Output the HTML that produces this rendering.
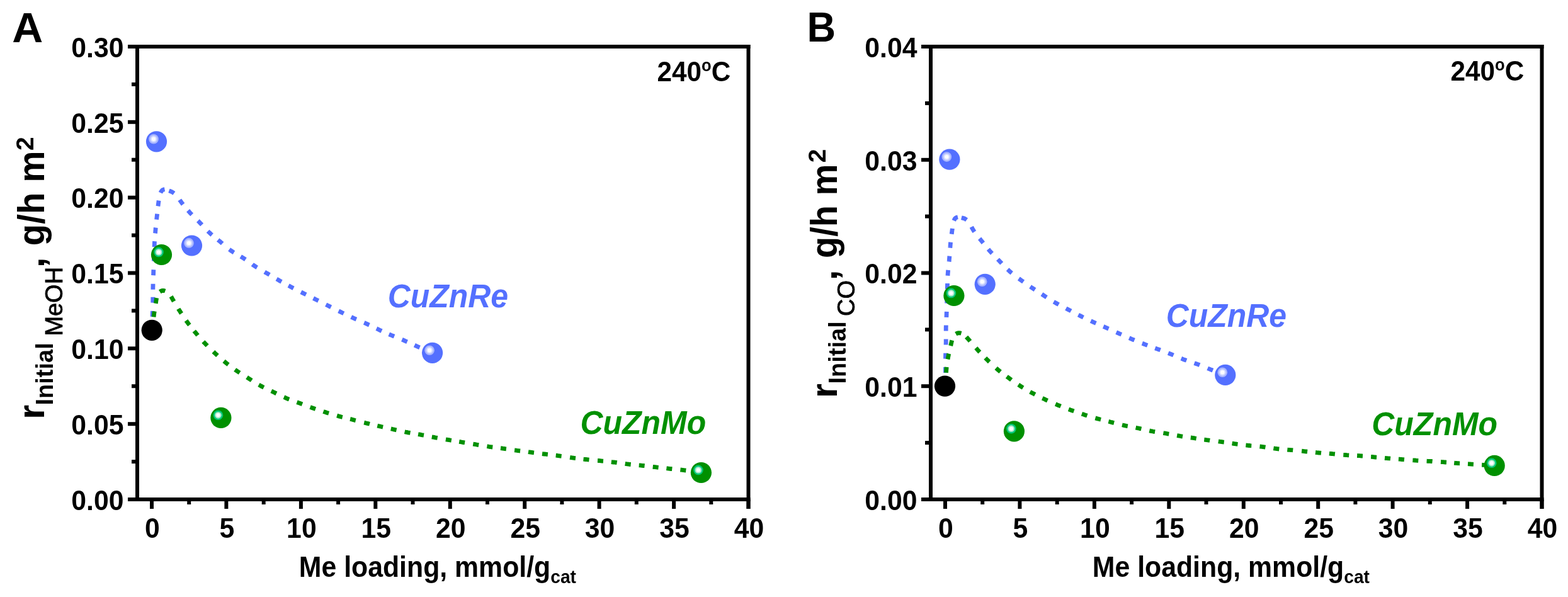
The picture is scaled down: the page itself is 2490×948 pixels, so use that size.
<!DOCTYPE html>
<html><head><meta charset="utf-8"><title>Figure</title>
<style>html,body{margin:0;padding:0;background:#fff;} svg{display:block;}</style></head>
<body><svg width="2490" height="948" viewBox="0 0 2490 948" font-family="'Liberation Sans', Arial, sans-serif">
<rect width="2490" height="948" fill="#fff"/>
<path d="M242.0,502.9 242.1,501.1 242.2,499.3 242.2,497.5 242.3,495.7 242.4,493.9M242.7,480.7 242.8,478.9 242.8,477.1 242.8,475.3 242.8,473.5 242.8,471.7M242.9,459.7 242.9,457.9 242.9,456.1 243.0,454.3 243.0,452.5 243.0,450.7M243.5,437.3 243.6,435.5 243.7,433.7 243.7,431.9 243.8,430.1 243.9,428.3M244.4,414.5 244.4,412.7 244.5,410.9 244.5,409.1 244.6,407.3 244.6,405.5M245.1,392.1 245.2,390.3 245.3,388.5 245.3,386.7 245.4,384.9 245.6,383.1M246.5,370.5 246.7,368.7 246.8,366.9 247.0,365.1 247.1,363.3 247.3,361.5M248.6,348.7 248.8,346.9 249.0,345.1 249.2,343.3 249.4,341.5 249.6,339.7M250.9,327.4 251.2,325.7 251.4,323.9 251.6,322.1 251.9,320.3 252.1,318.5M255.0,306.1 255.8,304.4 256.8,302.9 258.1,301.7 259.8,301.0 261.5,300.7M268.4,302.9 270.1,303.5 271.8,304.1 273.4,304.9 274.9,305.8 276.4,306.9M285.3,317.3 286.3,318.8 287.4,320.3 288.4,321.7 289.5,323.2 290.6,324.6M298.6,334.3 299.8,335.6 301.0,337.0 302.2,338.3 303.5,339.6 304.7,340.8M314.4,350.5 315.7,351.8 316.9,353.1 318.1,354.4 319.4,355.7 320.6,357.0M330.1,367.1 331.4,368.4 332.7,369.6 334.0,370.8 335.3,372.0 336.7,373.2M346.2,380.9 347.6,382.1 349.0,383.2 350.4,384.4 351.8,385.5 353.1,386.7M364.1,396.0 365.6,397.1 367.0,398.2 368.5,399.2 370.0,400.2 371.5,401.1M382.2,407.4 383.8,408.3 385.3,409.2 386.9,410.2 388.4,411.2 389.9,412.2M400.8,419.8 402.2,420.9 403.7,421.9 405.2,422.9 406.7,423.9 408.3,424.8M420.2,431.8 421.7,432.7 423.3,433.6 424.9,434.5 426.4,435.4 428.0,436.4M439.2,443.0 440.8,443.9 442.4,444.8 443.9,445.7 445.5,446.6 447.0,447.4M458.1,453.5 459.7,454.3 461.3,455.2 462.9,456.0 464.5,456.9 466.1,457.7M478.0,463.8 479.6,464.6 481.2,465.4 482.8,466.2 484.4,467.0 486.0,467.8M497.6,473.6 499.2,474.4 500.8,475.2 502.4,476.0 504.0,476.8 505.6,477.6M517.6,483.7 519.2,484.5 520.8,485.3 522.4,486.1 524.0,486.9 525.6,487.7M537.7,493.8 539.4,494.6 541.0,495.4 542.6,496.2 544.2,497.0 545.8,497.8M557.7,503.4 559.3,504.2 561.0,504.9 562.6,505.7 564.2,506.4 565.9,507.1M578.2,512.4 579.9,513.1 581.5,513.8 583.2,514.6 584.8,515.4 586.4,516.1M597.9,521.7 599.6,522.5 601.2,523.3 602.8,524.1 604.4,524.8 606.1,525.6M617.7,530.8 619.4,531.5 621.1,532.2 622.7,532.8 624.4,533.5 626.1,534.2M638.4,539.2 640.0,539.9 641.7,540.6 643.3,541.4 645.0,542.1 646.6,542.8M658.3,548.1 659.9,548.9 661.5,549.6 663.2,550.4 664.8,551.1 666.5,551.8" fill="none" stroke="#5470ff" stroke-width="6.8"/>
<path d="M244.1,503.3 244.3,501.5 244.5,499.7 244.7,497.9 245.0,496.2 245.2,494.4M247.3,481.9 247.6,480.2 247.8,478.4 248.1,476.6 248.4,474.8 248.7,473.1M253.9,463.3 255.4,462.3 257.1,461.6 258.9,461.4 260.6,461.5 262.3,462.1M271.6,470.8 272.5,472.3 273.4,473.9 274.3,475.5 275.2,477.0 276.1,478.6M283.3,490.3 284.2,491.9 285.2,493.4 286.2,494.9 287.1,496.4 288.1,497.9M295.6,509.0 296.6,510.5 297.7,511.9 298.8,513.4 299.8,514.8 300.9,516.2M308.3,525.6 309.4,527.0 310.6,528.3 311.7,529.7 312.9,531.1 314.0,532.5M322.9,542.5 324.1,543.8 325.4,545.1 326.6,546.5 327.9,547.7 329.1,549.0M338.9,558.5 340.2,559.8 341.5,561.0 342.9,562.2 344.2,563.4 345.5,564.6M355.6,573.4 356.9,574.5 358.3,575.7 359.7,576.8 361.1,577.9 362.6,579.0M373.2,586.9 374.6,587.9 376.1,589.0 377.6,590.0 379.1,591.0 380.6,592.0M392.1,599.2 393.6,600.2 395.1,601.1 396.7,602.1 398.2,603.0 399.7,604.0M411.0,611.0 412.6,611.9 414.1,612.8 415.7,613.6 417.3,614.5 418.9,615.3M430.8,621.0 432.4,621.7 434.1,622.5 435.7,623.3 437.3,624.1 438.9,624.9M450.9,630.6 452.6,631.3 454.2,632.1 455.9,632.8 457.5,633.5 459.2,634.1M471.5,638.7 473.2,639.3 474.9,639.9 476.6,640.5 478.3,641.1 480.0,641.8M492.6,646.5 494.2,647.1 495.9,647.7 497.6,648.3 499.3,648.9 501.0,649.5M513.5,653.5 515.2,654.1 516.9,654.6 518.6,655.2 520.4,655.7 522.1,656.2M535.1,660.1 536.8,660.6 538.6,661.1 540.3,661.5 542.0,662.0 543.8,662.4M556.1,665.4 557.9,665.8 559.6,666.3 561.3,666.7 563.1,667.2 564.8,667.6M578.2,671.1 580.0,671.5 581.7,672.0 583.5,672.4 585.2,672.8 587.0,673.3M599.3,676.1 601.0,676.5 602.8,676.9 604.5,677.3 606.3,677.7 608.1,678.1M620.8,680.9 622.6,681.3 624.3,681.7 626.1,682.1 627.8,682.5 629.6,682.9M642.6,685.7 644.4,686.1 646.2,686.4 647.9,686.8 649.7,687.1 651.5,687.4M664.1,689.6 665.9,689.9 667.7,690.2 669.4,690.6 671.2,690.9 673.0,691.2M685.8,693.8 687.6,694.1 689.4,694.4 691.1,694.8 692.9,695.1 694.7,695.4M707.9,697.8 709.7,698.1 711.5,698.4 713.3,698.7 715.0,699.0 716.8,699.3M729.2,701.4 731.0,701.7 732.8,702.0 734.6,702.3 736.3,702.6 738.1,702.9M751.3,705.1 753.1,705.4 754.9,705.7 756.6,706.0 758.4,706.3 760.2,706.6M773.4,708.7 775.2,709.0 777.0,709.3 778.7,709.5 780.5,709.8 782.3,710.0M795.0,711.7 796.8,711.9 798.5,712.2 800.3,712.4 802.1,712.7 803.9,712.9M817.1,714.8 818.9,715.0 820.7,715.3 822.5,715.5 824.3,715.8 826.1,716.0M839.0,717.7 840.8,718.0 842.6,718.2 844.4,718.4 846.2,718.7 848.0,718.9M861.0,720.6 862.7,720.8 864.5,721.0 866.3,721.2 868.1,721.4 869.9,721.6M882.7,723.1 884.5,723.3 886.3,723.6 888.1,723.8 889.9,724.1 891.6,724.3M905.1,726.4 906.9,726.7 908.7,727.0 910.5,727.2 912.2,727.5 914.0,727.7M926.5,729.1 928.3,729.3 930.1,729.5 931.9,729.7 933.7,729.9 935.5,730.1M949.0,731.4 950.8,731.5 952.6,731.7 954.4,731.9 956.2,732.1 958.0,732.2M970.8,733.6 972.6,733.8 974.4,734.0 976.2,734.2 977.9,734.4 979.7,734.7M992.7,736.4 994.5,736.7 996.3,736.9 998.1,737.1 999.9,737.3 1001.7,737.5M1014.7,738.8 1016.4,738.9 1018.2,739.1 1020.0,739.3 1021.8,739.5 1023.6,739.7M1036.7,741.3 1038.5,741.5 1040.3,741.7 1042.1,741.9 1043.8,742.1 1045.6,742.3M1058.4,743.7 1060.1,743.9 1061.9,744.1 1063.7,744.3 1065.5,744.5 1067.3,744.7M1080.4,746.0 1082.2,746.2 1084.0,746.4 1085.8,746.6 1087.6,746.8 1089.3,747.0" fill="none" stroke="#009000" stroke-width="6.8"/>
<g stroke="#000" stroke-width="6" fill="none">
<line x1="218" y1="71" x2="218" y2="796"/>
<line x1="203" y1="74" x2="1191.5" y2="74"/>
<line x1="203" y1="793" x2="1191.5" y2="793"/>
<line x1="1188.5" y1="71" x2="1188.5" y2="808"/>
<line x1="203" y1="793.0" x2="218" y2="793.0"/>
<line x1="209" y1="733.1" x2="218" y2="733.1"/>
<line x1="203" y1="673.2" x2="218" y2="673.2"/>
<line x1="209" y1="613.2" x2="218" y2="613.2"/>
<line x1="203" y1="553.3" x2="218" y2="553.3"/>
<line x1="209" y1="493.4" x2="218" y2="493.4"/>
<line x1="203" y1="433.5" x2="218" y2="433.5"/>
<line x1="209" y1="373.6" x2="218" y2="373.6"/>
<line x1="203" y1="313.7" x2="218" y2="313.7"/>
<line x1="209" y1="253.7" x2="218" y2="253.7"/>
<line x1="203" y1="193.8" x2="218" y2="193.8"/>
<line x1="209" y1="133.9" x2="218" y2="133.9"/>
<line x1="203" y1="74.0" x2="218" y2="74.0"/>
<line x1="241.0" y1="793" x2="241.0" y2="808"/>
<line x1="300.2" y1="793" x2="300.2" y2="801"/>
<line x1="359.4" y1="793" x2="359.4" y2="808"/>
<line x1="418.7" y1="793" x2="418.7" y2="801"/>
<line x1="477.9" y1="793" x2="477.9" y2="808"/>
<line x1="537.1" y1="793" x2="537.1" y2="801"/>
<line x1="596.3" y1="793" x2="596.3" y2="808"/>
<line x1="655.5" y1="793" x2="655.5" y2="801"/>
<line x1="714.8" y1="793" x2="714.8" y2="808"/>
<line x1="774.0" y1="793" x2="774.0" y2="801"/>
<line x1="833.2" y1="793" x2="833.2" y2="808"/>
<line x1="892.4" y1="793" x2="892.4" y2="801"/>
<line x1="951.6" y1="793" x2="951.6" y2="808"/>
<line x1="1010.8" y1="793" x2="1010.8" y2="801"/>
<line x1="1070.1" y1="793" x2="1070.1" y2="808"/>
<line x1="1129.3" y1="793" x2="1129.3" y2="801"/>
<line x1="1188.5" y1="793" x2="1188.5" y2="808"/>
</g>
<text transform="translate(196.50,809.80) scale(0.95,1)" font-size="45" font-weight="bold" fill="#000" text-anchor="end">0.00</text>
<text transform="translate(196.50,689.97) scale(0.95,1)" font-size="45" font-weight="bold" fill="#000" text-anchor="end">0.05</text>
<text transform="translate(196.50,570.13) scale(0.95,1)" font-size="45" font-weight="bold" fill="#000" text-anchor="end">0.10</text>
<text transform="translate(196.50,450.30) scale(0.95,1)" font-size="45" font-weight="bold" fill="#000" text-anchor="end">0.15</text>
<text transform="translate(196.50,330.47) scale(0.95,1)" font-size="45" font-weight="bold" fill="#000" text-anchor="end">0.20</text>
<text transform="translate(196.50,210.63) scale(0.95,1)" font-size="45" font-weight="bold" fill="#000" text-anchor="end">0.25</text>
<text transform="translate(196.50,90.80) scale(0.95,1)" font-size="45" font-weight="bold" fill="#000" text-anchor="end">0.30</text>
<text transform="translate(242.00,853.50) scale(0.95,1)" font-size="45" font-weight="bold" fill="#000" text-anchor="middle">0</text>
<text transform="translate(360.44,853.50) scale(0.95,1)" font-size="45" font-weight="bold" fill="#000" text-anchor="middle">5</text>
<text transform="translate(478.88,853.50) scale(0.95,1)" font-size="45" font-weight="bold" fill="#000" text-anchor="middle">10</text>
<text transform="translate(597.31,853.50) scale(0.95,1)" font-size="45" font-weight="bold" fill="#000" text-anchor="middle">15</text>
<text transform="translate(715.75,853.50) scale(0.95,1)" font-size="45" font-weight="bold" fill="#000" text-anchor="middle">20</text>
<text transform="translate(834.19,853.50) scale(0.95,1)" font-size="45" font-weight="bold" fill="#000" text-anchor="middle">25</text>
<text transform="translate(952.62,853.50) scale(0.95,1)" font-size="45" font-weight="bold" fill="#000" text-anchor="middle">30</text>
<text transform="translate(1071.06,853.50) scale(0.95,1)" font-size="45" font-weight="bold" fill="#000" text-anchor="middle">35</text>
<text transform="translate(1189.50,853.50) scale(0.95,1)" font-size="45" font-weight="bold" fill="#000" text-anchor="middle">40</text>
<circle cx="241.2" cy="524.3" r="16.6" fill="#000"/>
<circle cx="248.5" cy="224.8" r="16.6" fill="#5470ff"/><circle cx="244.0" cy="220.7" r="7.8" fill="#a9b6ff"/><circle cx="244.0" cy="220.7" r="5.4" fill="#d4dbff"/><circle cx="244.0" cy="220.7" r="3.2" fill="#fbfcff"/>
<circle cx="304.5" cy="390" r="16.6" fill="#5470ff"/><circle cx="300.0" cy="385.9" r="7.8" fill="#a9b6ff"/><circle cx="300.0" cy="385.9" r="5.4" fill="#d4dbff"/><circle cx="300.0" cy="385.9" r="3.2" fill="#fbfcff"/>
<circle cx="686.6" cy="560.3" r="16.6" fill="#5470ff"/><circle cx="682.1" cy="556.2" r="7.8" fill="#a9b6ff"/><circle cx="682.1" cy="556.2" r="5.4" fill="#d4dbff"/><circle cx="682.1" cy="556.2" r="3.2" fill="#fbfcff"/>
<circle cx="256.5" cy="404.5" r="16.6" fill="#009000"/><circle cx="252.0" cy="400.4" r="7.8" fill="#00c878"/><circle cx="252.0" cy="400.4" r="5.4" fill="#a8e8c8"/><circle cx="252.0" cy="400.4" r="3.2" fill="#fbfcff"/>
<circle cx="350.9" cy="663.4" r="16.6" fill="#009000"/><circle cx="346.4" cy="659.3" r="7.8" fill="#00c878"/><circle cx="346.4" cy="659.3" r="5.4" fill="#a8e8c8"/><circle cx="346.4" cy="659.3" r="3.2" fill="#fbfcff"/>
<circle cx="1113.4" cy="750.5" r="16.6" fill="#009000"/><circle cx="1108.9" cy="746.4" r="7.8" fill="#00c878"/><circle cx="1108.9" cy="746.4" r="5.4" fill="#a8e8c8"/><circle cx="1108.9" cy="746.4" r="3.2" fill="#fbfcff"/>
<text transform="translate(615.70,488.00) scale(0.97,1)" font-size="51.5" font-weight="bold" font-style="italic" fill="#5470ff">CuZnRe</text>
<text transform="translate(921.50,689.00) scale(0.97,1)" font-size="51.5" font-weight="bold" font-style="italic" fill="#009000">CuZnMo</text>
<text transform="translate(1043.5,128.5) scale(0.95,1)" font-size="44.5" font-weight="bold">240<tspan font-size="27" dy="-16">o</tspan><tspan dy="16">C</tspan></text>
<text transform="translate(474.8,916) scale(0.941,1)" font-size="45.5" font-weight="bold">Me loading, mmol/g<tspan font-size="30" dy="10">cat</tspan></text>
<text transform="translate(70.30,665.70) rotate(-90)" font-size="59" font-weight="bold" fill="#000">r</text>
<text transform="translate(84.00,643.50) rotate(-90)" font-size="38" font-weight="bold" fill="#000">Initial</text>
<text stroke="#000" stroke-width="0.8" transform="translate(99.00,533.60) rotate(-90) scale(0.986,1)" font-size="38.5" font-weight="normal" fill="#000">MeOH</text>
<text transform="translate(70.30,425.00) rotate(-90)" font-size="59" font-weight="bold" fill="#000">,</text>
<text transform="translate(70.30,390.30) rotate(-90) scale(0.959,1)" font-size="59" font-weight="bold" fill="#000">g/h m</text>
<text transform="translate(53.00,239.10) rotate(-90)" font-size="39" font-weight="bold" fill="#000">2</text>
<text transform="translate(19.30,66.80) scale(1.02,1)" font-size="66.5" font-weight="bold" fill="#000">A</text>
<path d="M1501.5,591.9 1501.5,590.1 1501.5,588.3 1501.5,586.5 1501.5,584.7 1501.5,582.9M1501.4,569.8 1501.5,568.0 1501.5,566.2 1501.5,564.4 1501.6,562.6 1501.6,560.8M1502.1,547.6 1502.1,545.8 1502.2,544.0 1502.2,542.2 1502.2,540.4 1502.2,538.6M1502.2,525.5 1502.2,523.7 1502.2,521.9 1502.2,520.1 1502.3,518.3 1502.3,516.5M1502.9,503.9 1503.0,502.1 1503.1,500.3 1503.1,498.5 1503.2,496.7 1503.3,494.9M1503.7,481.5 1503.7,479.7 1503.8,477.9 1503.8,476.1 1503.9,474.3 1503.9,472.5M1504.3,459.0 1504.3,457.2 1504.4,455.4 1504.4,453.6 1504.5,451.8 1504.5,450.0M1505.0,437.8 1505.1,436.0 1505.2,434.2 1505.4,432.4 1505.5,430.7 1505.7,428.9M1507.1,415.5 1507.3,413.8 1507.4,412.0 1507.6,410.2 1507.7,408.4 1507.9,406.6M1508.8,393.6 1509.0,391.8 1509.1,390.0 1509.3,388.2 1509.4,386.4 1509.6,384.7M1511.2,371.7 1511.5,369.9 1511.7,368.2 1511.9,366.4 1512.2,364.6 1512.4,362.8M1514.8,350.4 1515.5,348.8 1516.4,347.2 1517.7,346.0 1519.2,345.1 1521.0,344.7M1526.8,345.7 1528.5,346.1 1530.3,346.6 1532.0,347.2 1533.5,348.1 1535.0,349.2M1542.8,360.3 1543.6,361.9 1544.5,363.5 1545.4,365.0 1546.4,366.6 1547.4,368.1M1555.6,378.8 1556.8,380.2 1557.9,381.6 1559.1,383.0 1560.2,384.4 1561.3,385.8M1569.5,395.7 1570.6,397.1 1571.8,398.5 1573.0,399.8 1574.2,401.1 1575.5,402.4M1584.5,411.7 1585.7,413.0 1587.0,414.3 1588.2,415.6 1589.5,416.9 1590.7,418.2M1600.1,427.7 1601.4,428.9 1602.7,430.2 1604.0,431.4 1605.4,432.6 1606.8,433.7M1617.8,442.4 1619.3,443.4 1620.8,444.5 1622.2,445.5 1623.7,446.6 1625.1,447.6M1636.1,455.2 1637.6,456.2 1639.0,457.2 1640.5,458.2 1642.0,459.2 1643.5,460.2M1654.4,467.2 1655.9,468.2 1657.4,469.2 1658.9,470.2 1660.4,471.1 1662.0,472.1M1673.3,479.2 1674.9,480.1 1676.5,481.0 1678.0,481.9 1679.6,482.7 1681.2,483.6M1692.8,489.7 1694.4,490.6 1696.0,491.4 1697.6,492.2 1699.2,493.0 1700.8,493.9M1712.4,500.0 1714.0,500.8 1715.6,501.6 1717.2,502.4 1718.8,503.2 1720.4,504.0M1732.2,509.6 1733.9,510.4 1735.5,511.1 1737.1,511.9 1738.8,512.6 1740.4,513.3M1752.2,518.5 1753.9,519.2 1755.5,520.0 1757.2,520.7 1758.8,521.4 1760.5,522.1M1772.7,527.6 1774.3,528.3 1776.0,529.0 1777.6,529.8 1779.2,530.5 1780.9,531.2M1793.2,536.6 1794.8,537.3 1796.5,538.1 1798.1,538.8 1799.8,539.5 1801.5,540.2M1813.8,545.2 1815.5,545.8 1817.2,546.5 1818.8,547.1 1820.5,547.8 1822.2,548.4M1834.3,552.9 1836.0,553.5 1837.7,554.1 1839.4,554.7 1841.1,555.3 1842.7,555.9M1855.2,560.6 1856.9,561.3 1858.6,562.0 1860.2,562.6 1861.9,563.3 1863.5,564.0M1875.8,569.2 1877.5,569.9 1879.1,570.6 1880.8,571.2 1882.5,571.8 1884.2,572.4M1896.6,576.6 1898.3,577.2 1900.0,577.8 1901.7,578.4 1903.4,579.0 1905.1,579.7M1917.7,584.8 1919.3,585.5 1921.0,586.2 1922.7,586.9 1924.3,587.5 1926.0,588.2" fill="none" stroke="#5470ff" stroke-width="6.8"/>
<path d="M1502.5,591.8 1502.6,590.0 1502.7,588.2 1502.9,586.5 1503.0,584.7 1503.2,582.9M1505.0,570.4 1505.4,568.6 1505.7,566.8 1506.1,565.1 1506.4,563.3 1506.8,561.6M1509.7,549.1 1510.1,547.4 1510.5,545.6 1510.9,543.9 1511.3,542.1 1511.7,540.4M1517.9,530.3 1519.5,529.4 1521.2,528.9 1522.9,528.6 1524.7,528.8 1526.5,529.3M1534.6,535.0 1535.8,536.4 1537.0,537.7 1538.2,539.1 1539.4,540.4 1540.5,541.8M1549.8,552.5 1551.0,553.8 1552.2,555.2 1553.4,556.5 1554.6,557.8 1555.9,559.1M1564.8,568.4 1566.0,569.7 1567.3,570.9 1568.6,572.2 1569.9,573.5 1571.2,574.7M1581.7,584.5 1583.1,585.7 1584.4,586.8 1585.8,588.0 1587.2,589.1 1588.6,590.3M1598.8,598.0 1600.3,599.1 1601.7,600.1 1603.2,601.2 1604.7,602.2 1606.1,603.3M1617.2,610.9 1618.7,611.9 1620.2,612.8 1621.7,613.8 1623.2,614.8 1624.7,615.7M1635.8,622.2 1637.4,623.1 1639.0,624.0 1640.6,624.8 1642.1,625.6 1643.7,626.5M1655.3,632.3 1657.0,633.0 1658.6,633.8 1660.2,634.6 1661.8,635.3 1663.5,636.1M1676.2,641.7 1677.9,642.4 1679.5,643.1 1681.2,643.8 1682.9,644.4 1684.5,645.1M1697.0,649.9 1698.7,650.5 1700.3,651.1 1702.0,651.7 1703.7,652.3 1705.4,652.9M1717.9,657.2 1719.6,657.8 1721.3,658.3 1723.0,658.9 1724.7,659.4 1726.4,660.0M1739.4,663.9 1741.2,664.4 1742.9,664.9 1744.6,665.3 1746.4,665.8 1748.1,666.2M1760.4,669.3 1762.1,669.7 1763.9,670.2 1765.6,670.6 1767.4,671.1 1769.1,671.5M1782.0,674.8 1783.7,675.2 1785.5,675.6 1787.2,676.0 1789.0,676.4 1790.8,676.7M1803.6,679.1 1805.3,679.5 1807.1,679.8 1808.9,680.2 1810.6,680.6 1812.4,681.0M1825.3,683.9 1827.0,684.3 1828.8,684.6 1830.6,685.0 1832.3,685.3 1834.1,685.6M1847.4,687.7 1849.2,688.0 1851.0,688.2 1852.8,688.5 1854.5,688.9 1856.3,689.2M1869.1,691.6 1870.9,691.9 1872.7,692.2 1874.4,692.5 1876.2,692.8 1878.0,693.1M1890.8,695.0 1892.6,695.2 1894.4,695.5 1896.2,695.7 1897.9,696.0 1899.7,696.3M1912.3,698.2 1914.1,698.4 1915.9,698.7 1917.7,698.9 1919.5,699.1 1921.2,699.4M1934.8,700.9 1936.6,701.2 1938.4,701.4 1940.2,701.6 1942.0,701.9 1943.8,702.1M1956.6,704.0 1958.4,704.3 1960.2,704.6 1962.0,704.8 1963.8,705.1 1965.5,705.3M1978.4,706.9 1980.2,707.1 1982.0,707.3 1983.7,707.5 1985.5,707.7 1987.3,707.8M2000.5,709.0 2002.3,709.2 2004.1,709.4 2005.9,709.6 2007.7,709.8 2009.5,710.1M2022.4,711.9 2024.2,712.2 2026.0,712.4 2027.8,712.6 2029.5,712.8 2031.3,713.0M2044.3,714.1 2046.1,714.3 2047.9,714.4 2049.7,714.6 2051.5,714.7 2053.2,714.9M2067.1,716.2 2068.9,716.4 2070.7,716.6 2072.5,716.8 2074.3,717.0 2076.1,717.2M2089.0,718.5 2090.8,718.7 2092.6,718.8 2094.4,719.0 2096.2,719.1 2098.0,719.3M2110.9,720.2 2112.7,720.4 2114.5,720.5 2116.3,720.7 2118.1,720.8 2119.9,721.0M2133.3,722.3 2135.0,722.4 2136.8,722.5 2138.6,722.7 2140.4,722.8 2142.2,722.9M2155.1,723.5 2156.9,723.6 2158.6,723.7 2160.4,723.9 2162.2,724.0 2164.0,724.1M2177.1,725.3 2178.9,725.4 2180.7,725.6 2182.5,725.8 2184.3,726.0 2186.1,726.1M2199.0,727.3 2200.8,727.5 2202.6,727.6 2204.4,727.8 2206.2,727.9 2208.0,728.1M2220.9,729.1 2222.7,729.2 2224.5,729.3 2226.3,729.5 2228.1,729.6 2229.9,729.8M2243.4,730.8 2245.2,730.9 2246.9,731.0 2248.7,731.2 2250.5,731.3 2252.3,731.4M2265.6,732.2 2267.4,732.3 2269.2,732.4 2271.0,732.4 2272.8,732.5 2274.6,732.7M2288.0,733.5 2289.8,733.6 2291.6,733.7 2293.4,733.9 2295.2,734.0 2297.0,734.1M2309.2,735.1 2311.0,735.3 2312.8,735.4 2314.6,735.6 2316.3,735.7 2318.1,735.8M2331.0,736.7 2332.8,736.8 2334.6,736.9 2336.4,737.1 2338.1,737.2 2339.9,737.3M2353.1,738.2 2354.9,738.3 2356.7,738.4 2358.4,738.5 2360.2,738.6 2362.0,738.8" fill="none" stroke="#009000" stroke-width="6.8"/>
<g stroke="#000" stroke-width="6" fill="none">
<line x1="1478" y1="71" x2="1478" y2="796"/>
<line x1="1463" y1="74" x2="2451.5" y2="74"/>
<line x1="1463" y1="793" x2="2451.5" y2="793"/>
<line x1="2448.5" y1="71" x2="2448.5" y2="808"/>
<line x1="1463" y1="793.0" x2="1478" y2="793.0"/>
<line x1="1469" y1="703.1" x2="1478" y2="703.1"/>
<line x1="1463" y1="613.2" x2="1478" y2="613.2"/>
<line x1="1469" y1="523.4" x2="1478" y2="523.4"/>
<line x1="1463" y1="433.5" x2="1478" y2="433.5"/>
<line x1="1469" y1="343.6" x2="1478" y2="343.6"/>
<line x1="1463" y1="253.8" x2="1478" y2="253.8"/>
<line x1="1469" y1="163.9" x2="1478" y2="163.9"/>
<line x1="1463" y1="74.0" x2="1478" y2="74.0"/>
<line x1="1501.0" y1="793" x2="1501.0" y2="808"/>
<line x1="1560.2" y1="793" x2="1560.2" y2="801"/>
<line x1="1619.4" y1="793" x2="1619.4" y2="808"/>
<line x1="1678.7" y1="793" x2="1678.7" y2="801"/>
<line x1="1737.9" y1="793" x2="1737.9" y2="808"/>
<line x1="1797.1" y1="793" x2="1797.1" y2="801"/>
<line x1="1856.3" y1="793" x2="1856.3" y2="808"/>
<line x1="1915.5" y1="793" x2="1915.5" y2="801"/>
<line x1="1974.8" y1="793" x2="1974.8" y2="808"/>
<line x1="2034.0" y1="793" x2="2034.0" y2="801"/>
<line x1="2093.2" y1="793" x2="2093.2" y2="808"/>
<line x1="2152.4" y1="793" x2="2152.4" y2="801"/>
<line x1="2211.6" y1="793" x2="2211.6" y2="808"/>
<line x1="2270.8" y1="793" x2="2270.8" y2="801"/>
<line x1="2330.1" y1="793" x2="2330.1" y2="808"/>
<line x1="2389.3" y1="793" x2="2389.3" y2="801"/>
<line x1="2448.5" y1="793" x2="2448.5" y2="808"/>
</g>
<text transform="translate(1456.50,809.80) scale(0.95,1)" font-size="45" font-weight="bold" fill="#000" text-anchor="end">0.00</text>
<text transform="translate(1456.50,630.05) scale(0.95,1)" font-size="45" font-weight="bold" fill="#000" text-anchor="end">0.01</text>
<text transform="translate(1456.50,450.30) scale(0.95,1)" font-size="45" font-weight="bold" fill="#000" text-anchor="end">0.02</text>
<text transform="translate(1456.50,270.55) scale(0.95,1)" font-size="45" font-weight="bold" fill="#000" text-anchor="end">0.03</text>
<text transform="translate(1456.50,90.80) scale(0.95,1)" font-size="45" font-weight="bold" fill="#000" text-anchor="end">0.04</text>
<text transform="translate(1502.00,853.50) scale(0.95,1)" font-size="45" font-weight="bold" fill="#000" text-anchor="middle">0</text>
<text transform="translate(1620.44,853.50) scale(0.95,1)" font-size="45" font-weight="bold" fill="#000" text-anchor="middle">5</text>
<text transform="translate(1738.88,853.50) scale(0.95,1)" font-size="45" font-weight="bold" fill="#000" text-anchor="middle">10</text>
<text transform="translate(1857.31,853.50) scale(0.95,1)" font-size="45" font-weight="bold" fill="#000" text-anchor="middle">15</text>
<text transform="translate(1975.75,853.50) scale(0.95,1)" font-size="45" font-weight="bold" fill="#000" text-anchor="middle">20</text>
<text transform="translate(2094.19,853.50) scale(0.95,1)" font-size="45" font-weight="bold" fill="#000" text-anchor="middle">25</text>
<text transform="translate(2212.62,853.50) scale(0.95,1)" font-size="45" font-weight="bold" fill="#000" text-anchor="middle">30</text>
<text transform="translate(2331.06,853.50) scale(0.95,1)" font-size="45" font-weight="bold" fill="#000" text-anchor="middle">35</text>
<text transform="translate(2449.50,853.50) scale(0.95,1)" font-size="45" font-weight="bold" fill="#000" text-anchor="middle">40</text>
<circle cx="1500.5" cy="613.2" r="16.6" fill="#000"/>
<circle cx="1507.9" cy="253.2" r="16.6" fill="#5470ff"/><circle cx="1503.4" cy="249.1" r="7.8" fill="#a9b6ff"/><circle cx="1503.4" cy="249.1" r="5.4" fill="#d4dbff"/><circle cx="1503.4" cy="249.1" r="3.2" fill="#fbfcff"/>
<circle cx="1564.2" cy="451.3" r="16.6" fill="#5470ff"/><circle cx="1559.7" cy="447.2" r="7.8" fill="#a9b6ff"/><circle cx="1559.7" cy="447.2" r="5.4" fill="#d4dbff"/><circle cx="1559.7" cy="447.2" r="3.2" fill="#fbfcff"/>
<circle cx="1945.8" cy="595.4" r="16.6" fill="#5470ff"/><circle cx="1941.3" cy="591.3" r="7.8" fill="#a9b6ff"/><circle cx="1941.3" cy="591.3" r="5.4" fill="#d4dbff"/><circle cx="1941.3" cy="591.3" r="3.2" fill="#fbfcff"/>
<circle cx="1514.9" cy="469.5" r="16.6" fill="#009000"/><circle cx="1510.4" cy="465.4" r="7.8" fill="#00c878"/><circle cx="1510.4" cy="465.4" r="5.4" fill="#a8e8c8"/><circle cx="1510.4" cy="465.4" r="3.2" fill="#fbfcff"/>
<circle cx="1610.4" cy="684.8" r="16.6" fill="#009000"/><circle cx="1605.9" cy="680.7" r="7.8" fill="#00c878"/><circle cx="1605.9" cy="680.7" r="5.4" fill="#a8e8c8"/><circle cx="1605.9" cy="680.7" r="3.2" fill="#fbfcff"/>
<circle cx="2373.2" cy="739.4" r="16.6" fill="#009000"/><circle cx="2368.7" cy="735.3" r="7.8" fill="#00c878"/><circle cx="2368.7" cy="735.3" r="5.4" fill="#a8e8c8"/><circle cx="2368.7" cy="735.3" r="3.2" fill="#fbfcff"/>
<text transform="translate(1851.70,518.50) scale(0.97,1)" font-size="51.5" font-weight="bold" font-style="italic" fill="#5470ff">CuZnRe</text>
<text transform="translate(2178.30,691.40) scale(0.97,1)" font-size="51.5" font-weight="bold" font-style="italic" fill="#009000">CuZnMo</text>
<text transform="translate(2303.5,128) scale(0.95,1)" font-size="44.5" font-weight="bold">240<tspan font-size="27" dy="-16">o</tspan><tspan dy="16">C</tspan></text>
<text transform="translate(1734.8,916) scale(0.941,1)" font-size="45.5" font-weight="bold">Me loading, mmol/g<tspan font-size="30" dy="10">cat</tspan></text>
<text transform="translate(1329.30,631.90) rotate(-90)" font-size="59" font-weight="bold" fill="#000">r</text>
<text transform="translate(1343.40,609.50) rotate(-90)" font-size="38" font-weight="bold" fill="#000">Initial</text>
<text stroke="#000" stroke-width="0.8" transform="translate(1357.00,502.00) rotate(-90) scale(0.986,1)" font-size="38.5" font-weight="normal" fill="#000">CO</text>
<text transform="translate(1329.30,444.90) rotate(-90)" font-size="59" font-weight="bold" fill="#000">,</text>
<text transform="translate(1329.30,410.10) rotate(-90) scale(0.951,1)" font-size="59" font-weight="bold" fill="#000">g/h m</text>
<text transform="translate(1311.00,258.30) rotate(-90)" font-size="39" font-weight="bold" fill="#000">2</text>
<text transform="translate(1281.60,65.80) scale(0.95,1)" font-size="66.5" font-weight="bold" fill="#000">B</text>
</svg></body></html>
